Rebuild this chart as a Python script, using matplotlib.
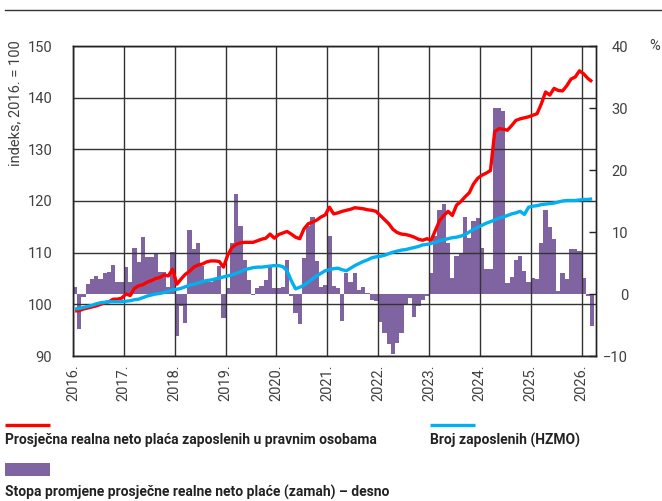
import matplotlib
matplotlib.use("Agg")
from matplotlib import pyplot as plt
from matplotlib.lines import Line2D
from matplotlib.patches import Rectangle
import numpy as np

# monthly data, Jan 2016 .. Mar 2026
wage_index = [
    98.7, 98.8, 99.1, 99.3, 99.5, 99.7, 100.0, 100.3, 100.5, 101.0, 101.0, 101.2,
    102.0, 101.7, 103.1, 103.6, 103.8, 104.3, 104.6, 105.0, 105.2, 105.7, 105.5, 106.8,
    103.9, 104.9, 105.8, 106.4, 107.2, 107.6, 107.8, 108.2, 108.4, 108.4, 108.3, 107.2,
    109.5, 111.0, 111.6, 111.9, 112.0, 112.0, 112.0, 112.3, 112.6, 112.8, 113.6, 112.8,
    113.5, 113.8, 114.1, 113.6, 113.0, 112.7, 114.6, 115.6, 115.9, 116.3, 116.9, 117.3,
    118.8, 117.5, 117.7, 118.0, 118.2, 118.4, 118.7, 118.6, 118.5, 118.3, 118.2, 118.0,
    117.2, 116.4, 115.6, 114.5, 113.9, 113.6, 113.5, 113.3, 113.0, 112.6, 112.4, 112.7,
    112.4, 114.3, 116.2, 117.2, 118.0, 117.2, 119.2, 119.9, 120.8, 121.6, 123.3, 124.4,
    125.0, 125.4, 125.9, 133.4, 134.0, 133.9, 133.7, 134.6, 135.6, 135.9, 136.1, 136.3,
    136.6, 136.9, 138.8, 141.1, 140.5, 141.8, 141.4, 141.3, 142.3, 143.6, 144.0, 145.2,
    144.6, 143.7, 143.1,
]

employment_index = [
    99.1, 99.2, 99.4, 99.6, 99.8, 100.1, 100.3, 100.4, 100.5, 100.5, 100.5, 100.5,
    100.6, 100.7, 100.9, 101.0, 101.3, 101.6, 101.8, 102.0, 102.1, 102.3, 102.5, 102.8,
    102.9, 103.1, 103.4, 103.7, 103.9, 104.1, 104.4, 104.6, 104.7, 104.9, 105.1, 105.3,
    105.5, 105.7, 106.0, 106.3, 106.7, 106.9, 107.1, 107.2, 107.2, 107.3, 107.4, 107.5,
    107.5, 107.3, 106.5, 104.6, 103.0, 103.3, 103.7, 104.3, 104.9, 105.5, 106.0, 106.5,
    106.7, 106.9, 107.0, 106.7, 106.5, 107.0, 107.5, 107.9, 108.3, 108.6, 109.0, 109.2,
    109.3, 109.5, 109.8, 110.1, 110.3, 110.5, 110.6, 110.8, 111.0, 111.2, 111.5, 111.6,
    111.8, 112.0, 112.3, 112.5, 112.7, 112.9, 113.0, 113.2, 113.5, 114.0, 114.5, 114.9,
    115.3, 115.7, 116.0, 116.3, 116.7, 116.9, 117.2, 117.5, 117.7, 118.0, 117.4, 118.8,
    119.0, 119.1, 119.3, 119.4, 119.5, 119.6, 119.8, 120.0, 120.1, 120.1, 120.1, 120.2,
    120.3, 120.3, 120.4,
]

wage_momentum = [
    1.1, -5.6, -0.5, 1.6, 2.4, 2.85, 2.4, 3.4, 3.6, 4.6, 2.0, 2.0,
    4.35, 2.0, 7.5, 5.1, 9.2, 6.0, 6.0, 6.5, 3.5, 3.5, 1.1, 6.8,
    -6.7, -2.0, -4.6, 10.4, 7.2, 8.3, 4.5, 2.0, 2.0, 2.3, 4.5, -3.9,
    1.0, 8.2, 16.2, 10.9, 5.5, 2.3, -0.2, 0.9, 1.3, 2.3, 4.4, 1.0,
    1.0, 1.1, 5.5, -0.3, -3.1, -4.8, 5.8, 11.0, 12.5, 5.3, 1.2, 1.5,
    9.4, 1.3, 1.0, -4.3, 3.4, 2.0, 3.4, 0.7, 1.1, 0.2, -1.0, -1.2,
    -4.5, -6.3, -8.1, -9.6, -7.9, -6.3, -1.7, -0.6, -3.7, -2.0, -0.9, -0.3,
    3.4, 9.4, 13.5, 14.5, 8.2, 2.6, 6.1, 6.6, 12.5, 9.0, 11.8, 12.3,
    7.4, 4.0, 4.0, 30.0, 30.0, 29.5, 1.7, 2.7, 5.5, 6.2, 3.7, 1.9,
    2.6, 2.4, 8.2, 13.5, 10.8, 8.9, 0.5, 3.4, 2.4, 7.3, 7.2, 6.9,
    2.6, -0.4, -5.1,
]

years = ['2016.', '2017.', '2018.', '2019.', '2020.', '2021.',
         '2022.', '2023.', '2024.', '2025.', '2026.']

label_wage = 'Prosječna realna neto plaća zaposlenih u pravnim osobama'
label_empl = 'Broj zaposlenih (HZMO)'
label_mom = 'Stopa promjene prosječne realne neto plaće (zamah) – desno'

RED = '#ff0000'
BLUE = '#00b0f0'
PURPLE = '#8064a2'
GRID = '#333333'
TXT = '#404040'

plt.rcParams['font.family'] = ['Roboto', 'DejaVu Sans']

W, H = 662, 501
fig = plt.figure(figsize=(W / 100, H / 100), dpi=100)

def fx(px):
    return px / W

def fy(py):
    return 1 - py / H

left, right, top, bottom = 73, 596, 46, 356
ax = fig.add_axes([fx(left), fy(bottom), fx(right - left), (bottom - top) / H])
ax2 = ax.twinx()

# bars on the right axis, kept under the grid of the left axis
months = np.arange(len(wage_momentum)) + 0.5
ax2.bar(months, wage_momentum, width=1.0, color=PURPLE, linewidth=0)
ax2.set_ylim(-10, 40)
ax2.set_yticks([-10, 0, 10, 20, 30, 40])
ax2.tick_params(axis='y', direction='in', length=5, width=1, color='#222222',
                labelsize=10.5, labelcolor=TXT, pad=23)
for lab in ax2.get_yticklabels():
    lab.set_horizontalalignment('right')

ax.set_zorder(ax2.get_zorder() + 1)
ax.patch.set_visible(False)

x_line = np.arange(len(wage_index)) + 0.5
ax.plot(x_line, wage_index, color=RED, lw=2.4, solid_capstyle='butt', zorder=3)
ax.plot(np.arange(len(employment_index)) + 0.5, employment_index, color=BLUE,
        lw=2.4, solid_capstyle='butt', zorder=4)

ax.set_ylim(90, 150)
ax.set_yticks(range(90, 151, 10))
ax.set_xlim(0, 123.4)
ax.set_xticks(np.arange(len(years)) * 12)
ax.set_xticklabels(years, rotation=90)
ax.tick_params(axis='both', length=0, labelsize=10.5, labelcolor=TXT)
ax.tick_params(axis='y', pad=15)
ax.tick_params(axis='x', pad=6)
ax.grid(True, color=GRID, lw=1.0, zorder=1)
ax.set_axisbelow(True)

for a in (ax, ax2):
    for s in a.spines.values():
        s.set_color('#222222')
        s.set_linewidth(1.0)

fig.text(fx(15), fy(40), 'indeks, 2016. = 100', rotation=90, ha='center', va='top',
         fontsize=10.5, color=TXT)
fig.text(fx(655), fy(46), '%', ha='center', va='center', fontsize=10.5, color=TXT)

# rule at the top
fig.add_artist(Line2D([fx(5), fx(662)], [fy(10), fy(10)], transform=fig.transFigure,
                      color='#333333', lw=1.0))

# legend below the chart
fig.add_artist(Line2D([fx(5), fx(50)], [fy(425), fy(425)], transform=fig.transFigure,
                      color=RED, lw=2.4, solid_capstyle='butt'))
fig.text(fx(5), fy(440), label_wage, ha='left', va='center', fontsize=10,
         color='#222222', fontweight='bold')
fig.add_artist(Line2D([fx(430), fx(475)], [fy(425), fy(425)], transform=fig.transFigure,
                      color=BLUE, lw=2.4, solid_capstyle='butt'))
fig.text(fx(430), fy(440), label_empl, ha='left', va='center', fontsize=10,
         color='#222222', fontweight='bold')
fig.add_artist(Rectangle((fx(5), fy(476)), fx(45), 13 / H, transform=fig.transFigure,
                         color=PURPLE, lw=0))
fig.text(fx(5), fy(492), label_mom, ha='left', va='center', fontsize=10,
         color='#222222', fontweight='bold')

fig.savefig('out.png', dpi=100)
